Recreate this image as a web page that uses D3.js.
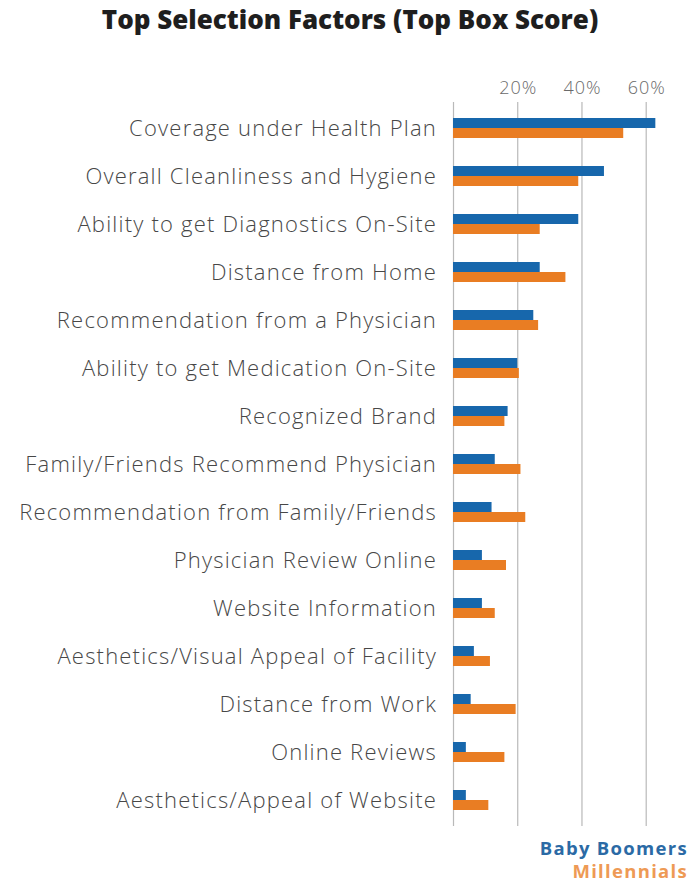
<!DOCTYPE html>
<html>
<head>
<meta charset="utf-8">
<script src="https://cdn.jsdelivr.net/npm/d3@7"></script>
<style>
  html, body { margin: 0; padding: 0; background: #fff; }
  svg { display: block; }
</style>
</head>
<body>
<svg id="chart" width="689" height="883"></svg>
<script>
// Selection factors, top to bottom
const categories = [
  "Coverage under Health Plan",
  "Overall Cleanliness and Hygiene",
  "Ability to get Diagnostics On-Site",
  "Distance from Home",
  "Recommendation from a Physician",
  "Ability to get Medication On-Site",
  "Recognized Brand",
  "Family/Friends Recommend Physician",
  "Recommendation from Family/Friends",
  "Physician Review Online",
  "Website Information",
  "Aesthetics/Visual Appeal of Facility",
  "Distance from Work",
  "Online Reviews",
  "Aesthetics/Appeal of Website"
];
// Top box scores (%)
const babyBoomers = [63, 47, 39, 27, 25, 20, 17, 13, 12, 9, 9, 6.5, 5.5, 4, 4];
const millennials = [53, 39, 27, 35, 26.5, 20.5, 16, 21, 22.5, 16.5, 13, 11.5, 19.5, 16, 11];
const seriesNames = ["Baby Boomers", "Millennials"];
const xTicks = [20, 40, 60];

const colors = { "Baby Boomers": "#1767ac", "Millennials": "#e97d23" };
const labelFont = "'Open Sans', Lato, sans-serif";

const svg = d3.select("#chart");
const x = d3.scaleLinear().domain([0, 60]).range([453, 645.7]);
const y = d3.scaleBand().domain(categories).range([104, 824]);
const barH = 10;

const rows = categories.map((c, i) => ({
  cat: c,
  vals: [
    { key: "Baby Boomers", v: babyBoomers[i] },
    { key: "Millennials", v: millennials[i] }
  ]
}));

// Gridlines and zero line
svg.append("g").selectAll("line")
  .data([0].concat(xTicks))
  .join("line")
  .attr("x1", d => x(d) + 0.5).attr("x2", d => x(d) + 0.5)
  .attr("y1", 102).attr("y2", 826)
  .attr("stroke", "#b9b9b9").attr("stroke-width", 1.2);

// Top axis labels
const axis = d3.axisTop(x).tickValues(xTicks).tickFormat(d => d + "%").tickSize(0).tickPadding(0);
const ax = svg.append("g").attr("transform", "translate(0.5,94)").call(axis);
ax.select(".domain").remove();
ax.selectAll("text")
  .attr("font-family", labelFont)
  .attr("font-weight", 300)
  .attr("font-size", 18)
  .attr("letter-spacing", 1)
  .attr("fill", "#6a6a6a");

// Bars
const rowG = svg.append("g").selectAll("g")
  .data(rows)
  .join("g")
  .attr("transform", d => `translate(0,${y(d.cat) + y.bandwidth() / 2})`);

rowG.selectAll("rect")
  .data(d => d.vals)
  .join("rect")
  .attr("x", x(0))
  .attr("y", (d, i) => i === 0 ? -barH : 0)
  .attr("width", d => x(d.v) - x(0))
  .attr("height", barH)
  .attr("fill", d => colors[d.key]);

// Category labels
rowG.append("text")
  .attr("x", 437)
  .attr("y", 0)
  .attr("dy", "0.36em")
  .attr("text-anchor", "end")
  .attr("font-family", labelFont)
  .attr("font-weight", 300)
  .attr("font-size", 22)
  .attr("letter-spacing", 1.2)
  .attr("fill", "#474747")
  .text(d => d.cat);

// Title
svg.append("text")
  .attr("x", 350).attr("y", 29)
  .attr("text-anchor", "middle")
  .attr("font-family", "'Open Sans', sans-serif")
  .attr("font-weight", 800)
  .attr("font-size", 26)
  .attr("fill", "#1e1e1e")
  .text("Top Selection Factors (Top Box Score)");

// Legend
svg.append("g").selectAll("text")
  .data(seriesNames)
  .join("text")
  .attr("x", 688)
  .attr("y", (d, i) => 855 + i * 23)
  .attr("text-anchor", "end")
  .attr("font-family", "'Open Sans', sans-serif")
  .attr("font-weight", 700)
  .attr("font-size", 18.5)
  .attr("letter-spacing", 1.3)
  .attr("fill", d => d === "Millennials" ? "#ee9a55" : "#2b6aa5")
  .text(d => d);
</script>
</body>
</html>
